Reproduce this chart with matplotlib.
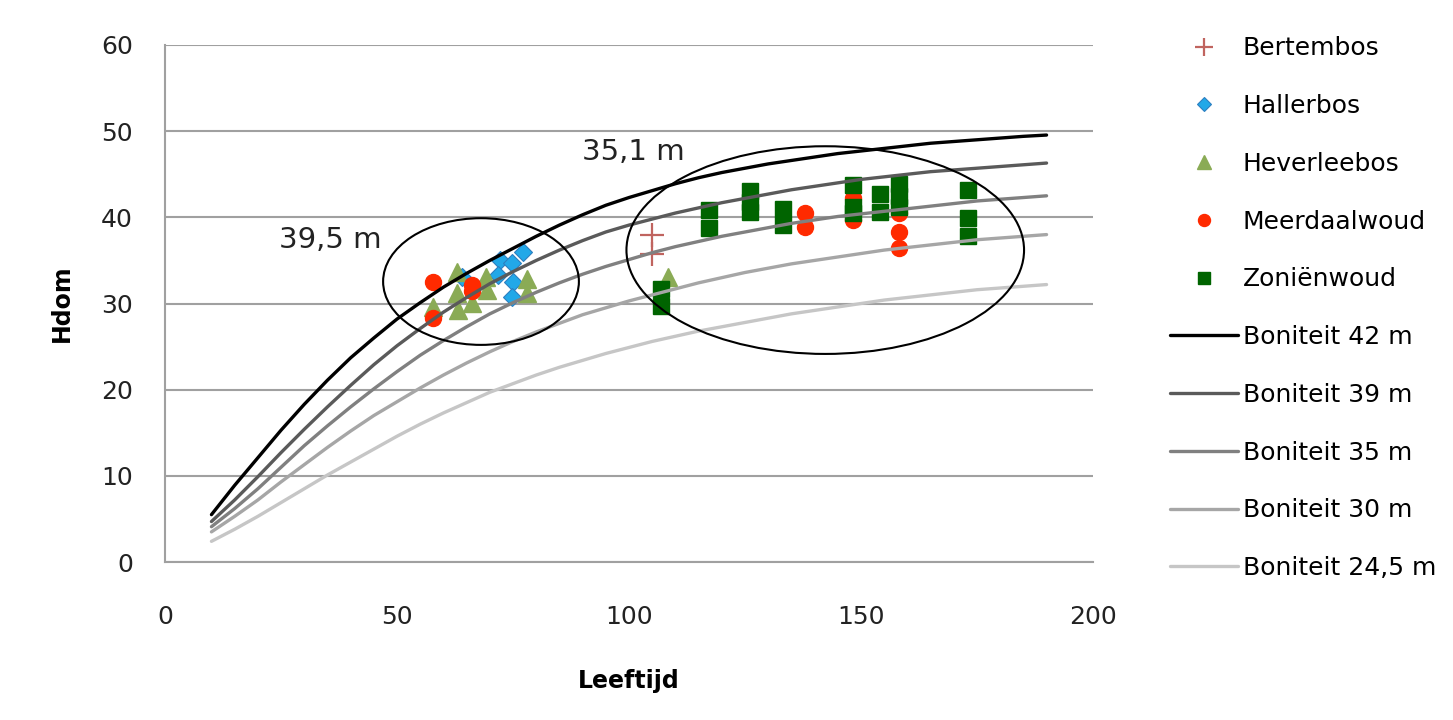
import matplotlib.pyplot as plt
from matplotlib.patches import Ellipse

plt.rcParams['font.family'] = ['DejaVu Sans']

# Site index curves (dominant height vs age), read every 5 years
ages = list(range(10, 191, 5))
bon_42 = [5.5, 8.9, 12.1, 15.3, 18.3, 21.1, 23.7, 26.0, 28.2, 30.1,
          31.9, 33.5, 35.0, 36.4, 37.8, 39.1, 40.3, 41.4, 42.3, 43.1,
          43.9, 44.6, 45.2, 45.7, 46.2, 46.6, 47.0, 47.4, 47.7, 48.0,
          48.3, 48.6, 48.8, 49.0, 49.2, 49.4, 49.55]
bon_39 = [4.7, 7.2, 9.9, 12.7, 15.4, 18.0, 20.5, 22.9, 25.1, 27.1,
          29.0, 30.7, 32.3, 33.7, 35.0, 36.2, 37.3, 38.3, 39.1, 39.8,
          40.5, 41.1, 41.7, 42.2, 42.7, 43.2, 43.6, 44.0, 44.4, 44.7,
          45.0, 45.3, 45.5, 45.7, 45.9, 46.1, 46.3]
bon_35 = [4.1, 6.2, 8.5, 11.0, 13.5, 15.8, 18.0, 20.1, 22.1, 24.0,
          25.7, 27.3, 28.8, 30.1, 31.3, 32.4, 33.4, 34.3, 35.1, 35.9,
          36.6, 37.2, 37.8, 38.3, 38.8, 39.3, 39.7, 40.1, 40.4, 40.7,
          41.0, 41.3, 41.6, 41.9, 42.1, 42.3, 42.5]
bon_30 = [3.5, 5.3, 7.2, 9.3, 11.3, 13.3, 15.2, 17.0, 18.6, 20.2,
          21.7, 23.1, 24.4, 25.6, 26.7, 27.7, 28.7, 29.5, 30.3, 31.0,
          31.7, 32.4, 33.0, 33.6, 34.1, 34.6, 35.0, 35.4, 35.8, 36.2,
          36.5, 36.8, 37.1, 37.4, 37.6, 37.8, 38.0]
bon_245 = [2.4, 3.8, 5.3, 6.9, 8.5, 10.1, 11.6, 13.1, 14.6, 16.0,
           17.3, 18.5, 19.7, 20.7, 21.7, 22.6, 23.4, 24.2, 24.9, 25.6,
           26.2, 26.8, 27.3, 27.8, 28.3, 28.8, 29.2, 29.6, 30.0, 30.4,
           30.7, 31.0, 31.3, 31.6, 31.8, 32.0, 32.2]

# Measured stands: age, Hdom
bertem_x = [105, 105]
bertem_y = [38.0, 35.7]
haller_x = [63.9, 72.2, 71.8, 74.7, 77.2, 75.1, 74.7]
haller_y = [33.1, 35.0, 33.3, 34.7, 36.0, 32.5, 30.8]
heverlee_x = [57.8, 63.0, 62.9, 63.2, 66.1, 69.2, 69.3, 78.0, 78.0, 108.5]
heverlee_y = [29.6, 33.7, 31.2, 29.2, 30.1, 33.1, 31.6, 32.9, 31.2, 33.1]
meerdaal_x = [57.8, 57.8, 66.1, 66.1, 137.9, 137.9, 148.2, 148.2,
              158.2, 158.2, 158.2]
meerdaal_y = [32.5, 28.3, 32.1, 31.4, 40.5, 38.9, 42.2, 39.7,
              40.5, 38.3, 36.5]
zonien_x = [107, 107, 117.3, 117.3, 126.1, 126.1, 126.1, 133.3, 133.3,
            148.2, 148.2, 148.2, 154.1, 154.1, 158.2, 158.2, 158.2,
            173.1, 173.1, 173.1]
zonien_y = [31.7, 29.7, 40.9, 38.8, 43.0, 41.8, 40.6, 41.0, 39.1,
            43.8, 41.2, 40.5, 42.7, 40.6, 43.9, 42.5, 41.2,
            43.2, 39.9, 37.8]

fig = plt.figure(figsize=(14.53, 7.2), dpi=100)
ax = fig.add_axes([0.1136, 0.2194, 0.6386, 0.7181])

ax.plot(bertem_x, bertem_y, ls='none', marker='+', ms=17, mew=1.6,
        color='#c0645f', zorder=2, label='Bertembos')
ax.plot(haller_x, haller_y, ls='none', marker='D', ms=9.5, mfc='#22a8e8',
        mec='#2d7fc0', mew=0.8, zorder=2, label='Hallerbos')
ax.plot(heverlee_x, heverlee_y, ls='none', marker='^', ms=12.5,
        color='#8aab55', zorder=2, label='Heverleebos')
ax.plot(meerdaal_x, meerdaal_y, ls='none', marker='o', ms=11.5,
        color='#ff2a00', zorder=2, label='Meerdaalwoud')
ax.plot(zonien_x, zonien_y, ls='none', marker='s', ms=11.5,
        color='#006400', zorder=2, label='Zoniënwoud')

curves = [(bon_42, '#000000', 'Boniteit 42 m'),
          (bon_39, '#5a5a5a', 'Boniteit 39 m'),
          (bon_35, '#808080', 'Boniteit 35 m'),
          (bon_30, '#a6a6a6', 'Boniteit 30 m'),
          (bon_245, '#c6c6c6', 'Boniteit 24,5 m')]
for vals, col, lab in curves:
    ax.plot(ages, vals, color=col, lw=2.4, zorder=3, label=lab,
            solid_capstyle='round')

# circled groups with their annotations
ax.add_patch(Ellipse((68.1, 32.55), 42.2, 14.7, fill=False, ec='black',
                     lw=1.5, zorder=4))
ax.add_patch(Ellipse((142.3, 36.2), 85.7, 24.1, fill=False, ec='black',
                     lw=1.5, zorder=4))
ax.text(35.6, 37.4, '39,5 m', fontsize=21, ha='center', va='center',
        color='#222222')
ax.text(100.9, 47.6, '35,1 m', fontsize=21, ha='center', va='center',
        color='#222222')

ax.set_xlim(0, 200)
ax.set_ylim(0, 60)
ax.set_xticks(range(0, 201, 50))
ax.set_yticks(range(0, 61, 10))
ax.yaxis.grid(True, color='#a0a0a0', lw=1.5, zorder=0)
ax.set_axisbelow(True)
ax.tick_params(length=0, labelsize=18, colors='#222222')
ax.tick_params(axis='x', pad=31)
ax.tick_params(axis='y', pad=23)
for s in ['top', 'right']:
    ax.spines[s].set_visible(False)
for s in ['left', 'bottom']:
    ax.spines[s].set_color('#a0a0a0')
    ax.spines[s].set_linewidth(1.5)

ax.set_xlabel('Leeftijd', fontsize=17, fontweight='bold', labelpad=29)
ax.set_ylabel('Hdom', fontsize=17, fontweight='bold', labelpad=20)

handles, labels = ax.get_legend_handles_labels()
leg = ax.legend(handles, labels, loc='upper left',
                bbox_to_anchor=(1.059, 1.06), frameon=False, fontsize=18,
                labelspacing=1.35, handlelength=2.7, handletextpad=0.2,
                markerscale=0.75)

fig.savefig('out.png', dpi=100, facecolor='white')
